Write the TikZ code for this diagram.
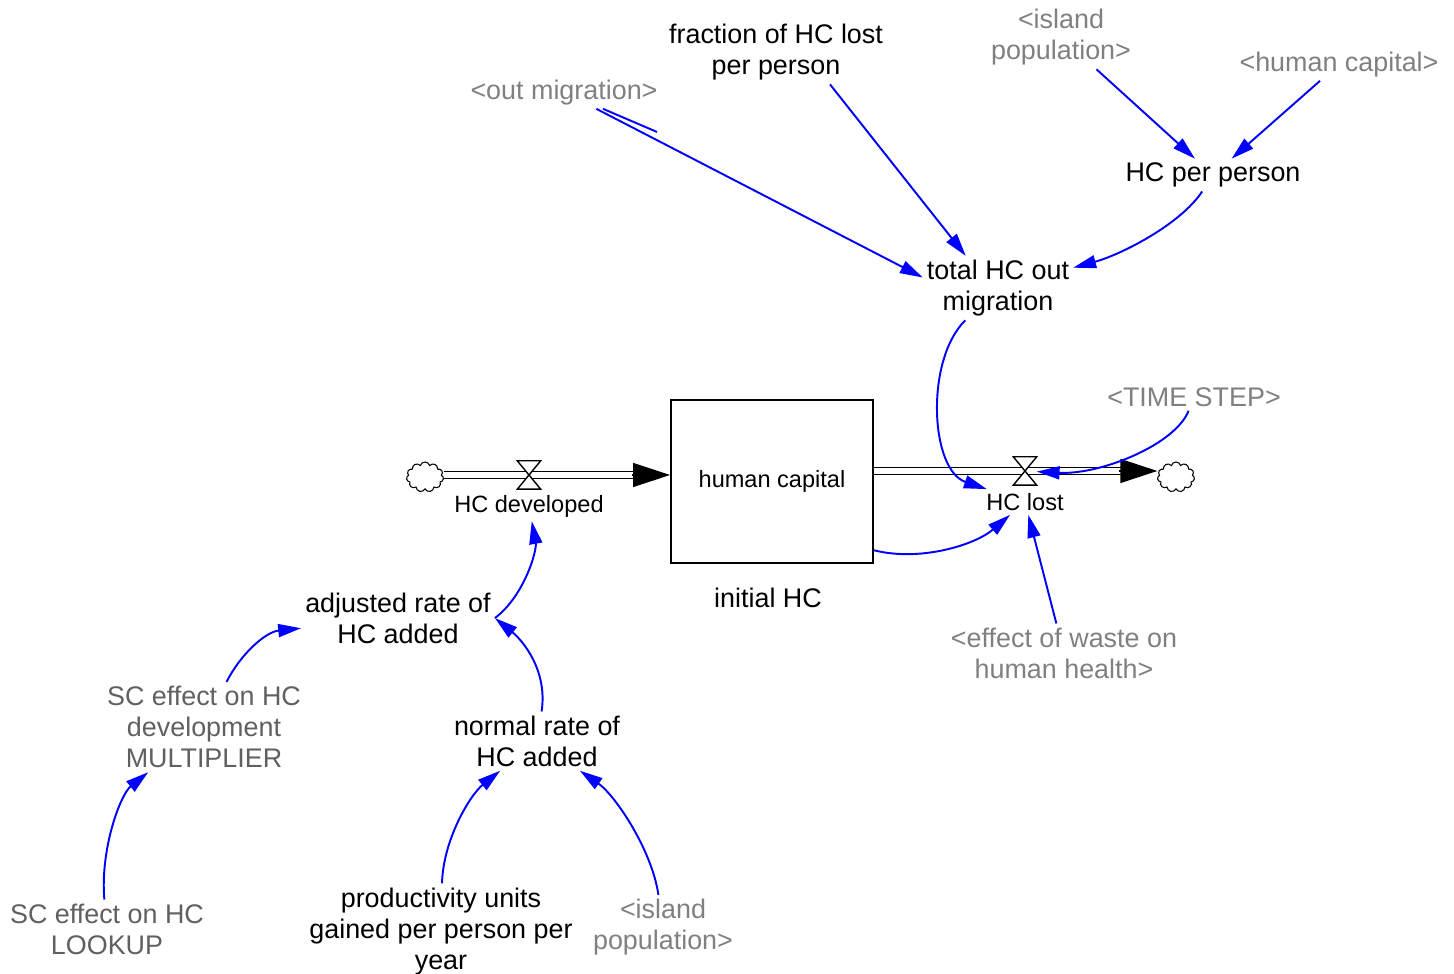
\documentclass[tikz,border=0pt]{standalone}
\usepackage{fontspec}
\setmainfont{Liberation Sans}
\usetikzlibrary{arrows.meta, shapes.symbols, calc}
\definecolor{linkblue}{RGB}{0,0,255}
\definecolor{ghostgray}{RGB}{128,128,128}
\definecolor{lookupgray}{RGB}{96,96,96}

\begin{document}
\begin{tikzpicture}[x=0.01cm, y=-0.01cm,
    var/.style={align=center, inner sep=1pt, yshift=-0.6pt, font=\fontsize{7.65}{8.82}\selectfont},
    ghost/.style={var, text=ghostgray},
    lookup/.style={var, text=lookupgray},
    rate/.style={inner sep=1pt, font=\fontsize{6.7}{8}\selectfont},
    valve/.style={inner sep=0pt, minimum width=0.22cm, minimum height=0.27cm},
    sink/.style={cloud, cloud puffs=11, draw, line width=0.3pt, inner sep=0pt, minimum width=0.37cm, minimum height=0.3cm},
    pipe/.style={double, double distance=1.5pt, line width=0.35pt},
    pipehead/.style={line width=0.35pt, -{Triangle[length=10.5pt, width=6.8pt]}},
    link/.style={linkblue, line width=0.55pt, -{Triangle[length=6.5pt, width=3.7pt]}}
]
\useasboundingbox (0,0) rectangle (1454,974);

\node[var] (frac) at (776,50) {fraction of HC lost\\per person};
\node[ghost] (islpop) at (1061,35) {<island\\population>};
\node[ghost] (humcap) at (1339,62) {<human capital>};
\node[ghost] (outmig) at (564,90) {<out migration>};
\node[var] (hcpp) at (1213,173) {HC per person};
\node[var] (totmig) at (998,286) {total HC out\\migration};
\node[ghost] (tstep) at (1194,395) {<TIME STEP>};
\node[rate, draw, line width=0.5pt, minimum width=2.02cm, minimum height=1.63cm] (hcbox) at (772,481.5) {human capital};
\node[var] (inithc) at (768,596) {initial HC};
\node[valve] (devv) at (529,475) {};
\node[rate] (hcdev) at (529,506) {HC developed};
\node[valve] (lostv) at (1025,471) {};
\node[rate] (hclost) at (1025,502) {HC lost};
\node[sink] (srcL) at (425,477) {};
\node[sink] (sinkR) at (1176,477) {};
\node[var] (adjrate) at (398,616) {adjusted rate of\\HC added};
\node[ghost] (waste) at (1064,651) {<effect of waste on\\human health>};
\node[lookup] (scmult) at (204,725) {SC effect on HC\\development\\MULTIPLIER};
\node[var] (normrate) at (537,739) {normal rate of\\HC added};
\node[lookup] (sclook) at (107,927) {SC effect on HC\\LOOKUP};
\node[var] (produnits) at (441,929) {productivity units\\gained per person per\\year};
\node[ghost] (islpop2) at (663,925) {<island\\population>};

\draw[pipe] (srcL.east |- devv) -- ($(hcbox.west |- devv)+(-30,0)$);
\draw[pipehead] ($(hcbox.west |- devv)+(-38,0)$) -- (hcbox.west |- devv);
\draw[pipe] (hcbox.east |- lostv) -- ($(sinkR.west |- lostv)+(-30,0)$);
\draw[pipehead] ($(sinkR.west |- lostv)+(-38,0)$) -- (sinkR.west |- lostv);
\foreach \v in {devv, lostv}
  \draw[fill=white, line width=0.4pt] (\v.north west) -- (\v.north east) -- (\v.south west) -- (\v.south east) -- cycle;

\coordinate (outstub) at (657,132);
\draw[link] (outmig) -- (totmig.172);
\draw[link, -] (outmig) -- (outstub);
\draw[link] ($(frac.south)+(54,0)$) -- (totmig.135);
\draw[link] (islpop) -- (hcpp);
\draw[link] (humcap) -- (hcpp);
\draw[link] (hcpp) .. controls (1180,225) and (1120,255) .. (totmig);
\draw[link] (totmig) .. controls (925,360) and (930,470) .. (hclost);
\draw[link] (tstep) .. controls (1175,445) and (1100,475) .. (lostv);
\draw[link] (hcbox.-34) .. controls (920,562) and (975,545) .. (hclost);
\draw[link] (waste) -- (hclost);
\draw[link] (adjrate.east) .. controls (525,595) and (537,550) .. (hcdev);
\draw[link] (scmult) .. controls (240,655) and (265,632) .. (adjrate);
\draw[link] (normrate) .. controls (548,670) and (522,640) .. (adjrate.east);
\draw[link] (sclook) .. controls (100,850) and (120,795) .. (scmult);
\draw[link] (produnits) .. controls (443,840) and (470,795) .. (normrate);
\draw[link] (islpop2) .. controls (652,850) and (615,795) .. (normrate);
\end{tikzpicture}
\end{document}
